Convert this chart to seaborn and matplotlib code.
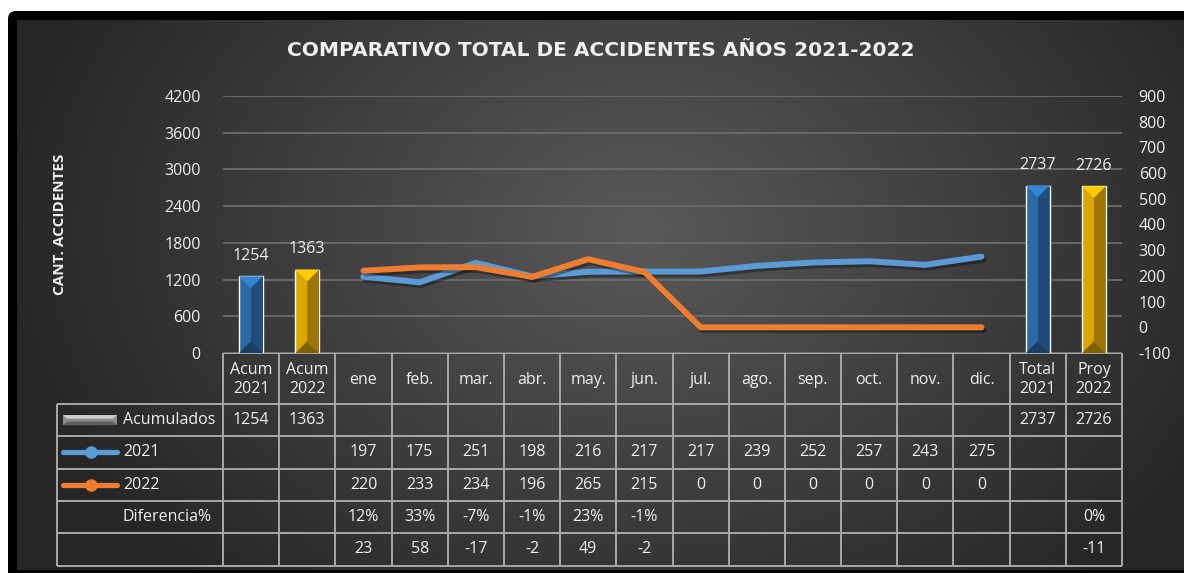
import numpy as np
import pandas as pd
import matplotlib
matplotlib.use("Agg")
import matplotlib.pyplot as plt
import seaborn as sns
from matplotlib.patches import Polygon, Rectangle, FancyBboxPatch
import matplotlib.patheffects as pe
from matplotlib.lines import Line2D

# ---------------- data ----------------
categories = ["Acum\n2021", "Acum\n2022", "ene", "feb.", "mar.", "abr.", "may.", "jun.",
              "jul.", "ago.", "sep.", "oct.", "nov.", "dic.", "Total\n2021", "Proy\n2022"]
months = categories[2:14]
bar_categories = ["Acum\n2021", "Acum\n2022", "Total\n2021", "Proy\n2022"]
bar_values = [1254, 1363, 2737, 2726]
bar_kind = ["blue", "gold", "blue", "gold"]
values_2021 = [197, 175, 251, 198, 216, 217, 217, 239, 252, 257, 243, 275]
values_2022 = [220, 233, 234, 196, 265, 215, 0, 0, 0, 0, 0, 0]
diff_pct = ["12%", "33%", "-7%", "-1%", "23%", "-1%"]
diff_abs = ["23", "58", "-17", "-2", "49", "-2"]
proy_diff_pct = "0%"
proy_diff_abs = "-11"
left_ticks = [0, 600, 1200, 1800, 2400, 3000, 3600, 4200]
right_ticks = [-100, 0, 100, 200, 300, 400, 500, 600, 700, 800, 900]
row_labels = ["Acumulados", "2021", "2022", "Diferencia%", ""]
title = "COMPARATIVO TOTAL DE ACCIDENTES AÑOS 2021-2022"
ylabel = "CANT. ACCIDENTES"

# ---------------- style ----------------
sns.set_style("dark")
plt.rcParams["font.family"] = ["Open Sans", "DejaVu Sans"]
plt.rcParams["axes.unicode_minus"] = False
TXT = "#f0f0f0"
GRID = "#6c6c6c"
TABLE = "#a8a8a8"
C2021 = "#5B9BD5"
C2022 = "#ED7D31"
facets = {
    "blue": {"base": "#2C69A5", "top": "#3585D3", "right": "#1F4C7B", "bottom": "#1B3D63"},
    "gold": {"base": "#DCA600", "top": "#FFCC00", "right": "#9C7600", "bottom": "#7E6200"},
}

W, H = 1184, 573
fig = plt.figure(figsize=(W / 100, H / 100), dpi=100)
fig.patch.set_facecolor("white")

# background (pixel coordinates, y downwards)
bg = fig.add_axes([0, 0, 1, 1], zorder=-10)
bg.set_xlim(0, W)
bg.set_ylim(H, 0)
bg.axis("off")
bg.add_patch(FancyBboxPatch((8, 11), W + 20, H + 20, boxstyle="round,pad=0,rounding_size=8",
                            facecolor="black", edgecolor="none", zorder=0))
gx0, gx1, gy0, gy1 = 17, W, 20, 570
yy, xx = np.mgrid[gy0:gy1, gx0:gx1]
r = np.sqrt(((xx - 640) / 640.0) ** 2 + ((yy - 230) / 480.0) ** 2)
v = 0.35 - 0.20 * np.clip(r, 0, 1)
img = np.dstack([v, v, v])
bg.imshow(img, extent=(gx0, gx1, gy1, gy0), aspect="auto", zorder=1, interpolation="bilinear")

# layout constants
PL, PR, PT, PB = 223, 1122, 96, 353
NC = len(categories)
CW = (PR - PL) / NC
LABEL_L = 57
HEADER_B = 404
ROW_H = (565.5 - HEADER_B) / 5

ax = fig.add_axes([PL / W, (H - PB) / H, (PR - PL) / W, (PB - PT) / H])
ax.set_facecolor("none")

# bars
df_bars = pd.DataFrame({"cat": bar_categories, "val": bar_values})
pal = {c: facets[k]["base"] for c, k in zip(bar_categories, bar_kind)}
sns.barplot(data=df_bars, x="cat", y="val", hue="cat", order=categories, palette=pal,
            width=0.42, saturation=1, ax=ax, legend=False, zorder=3)
ax.set_xlim(-0.5, NC - 0.5)
ax.set_ylim(left_ticks[0], left_ticks[-1])
ax.set_yticks(left_ticks)
ax.set_xticks([])
ax.set_xlabel("")
ax.set_ylabel(ylabel, fontsize=11, fontweight="bold", color=TXT)
ax.yaxis.set_label_coords(-0.1735, 0.5)
ax.tick_params(axis="y", length=0, pad=16, labelsize=11.5, labelcolor=TXT)
ax.yaxis.grid(True, color=GRID, lw=1.3)
ax.xaxis.grid(False)
ax.set_axisbelow(True)
for s in ax.spines.values():
    s.set_visible(False)

# bevel facets
ypp = (left_ticks[-1] - left_ticks[0]) / (PB - PT)
for patch, kind, val in zip([p for p in ax.patches if p.get_height() > 0], bar_kind, bar_values):
    x0 = patch.get_x()
    w = patch.get_width()
    h = patch.get_height()
    x1 = x0 + w
    xc = x0 + w / 2
    d = (w / 2) * CW * ypp
    f = facets[kind]
    ax.add_patch(Polygon([(x0, h), (x1, h), (xc, h - d)], closed=True, facecolor=f["top"], edgecolor="none", zorder=4))
    ax.add_patch(Polygon([(x1, h), (xc, h - d), (xc, d), (x1, 0)], closed=True, facecolor=f["right"], edgecolor="none", zorder=4))
    ax.add_patch(Polygon([(x0, 0), (x1, 0), (xc, d)], closed=True, facecolor=f["bottom"], edgecolor="none", zorder=4))
    ax.annotate(f"{val}", (xc, h), xytext=(0, 9), textcoords="offset points", ha="center", va="bottom",
                fontsize=11.5, color=TXT)

# lines
ax2 = ax.twinx()
ax2.set_facecolor("none")
pos = list(range(2, 14))
df_lines = pd.DataFrame({"pos": pos * 2, "val": values_2021 + values_2022,
                         "serie": ["2021"] * 12 + ["2022"] * 12})
sns.lineplot(data=df_lines, x="pos", y="val", hue="serie", palette={"2021": C2021, "2022": C2022},
             lw=4.3, ax=ax2, legend=False)
for ln in ax2.get_lines():
    ln.set_solid_capstyle("round")
    ln.set_solid_joinstyle("round")
    ln.set_path_effects([pe.SimpleLineShadow(offset=(1.5, -2), shadow_color="black", alpha=0.35), pe.Normal()])
ax2.set_ylim(right_ticks[0], right_ticks[-1])
ax2.set_yticks(right_ticks)
ax2.set_xlim(-0.5, NC - 0.5)
ax2.set_xlabel("")
ax2.set_ylabel("")
ax2.tick_params(axis="y", length=0, pad=12, labelsize=11.5, labelcolor=TXT)
ax2.grid(False)
for s in ax2.spines.values():
    s.set_visible(False)

# title
fig.text(601 / W, 1 - 51 / H, title, ha="center", va="center", fontsize=14.5, fontweight="bold",
         color=TXT, family=["DejaVu Sans"])

# ---------------- data table (drawn in pixel coords) ----------------
def colx(i):
    return PL + i * CW

lk = dict(color=TABLE, lw=1.4, zorder=3, solid_capstyle="butt")
bg.plot([PL, PR], [PB, PB], **lk)
for i in range(NC + 1):
    bg.plot([colx(i), colx(i)], [PB, 565.5], **lk)
bg.plot([LABEL_L, LABEL_L], [HEADER_B, 565.5], **lk)
for k in range(6):
    yk = HEADER_B + k * ROW_H
    bg.plot([LABEL_L, PR], [yk, yk], **lk)

tk = dict(ha="center", va="center", fontsize=11.5, color=TXT, zorder=4)
for i, c in enumerate(categories):
    bg.text(colx(i) + CW / 2, (PB + HEADER_B) / 2 + 1, c, linespacing=1.3, **tk)

rows = []
rows.append([str(bar_values[0]), str(bar_values[1])] + [""] * 12 + [str(bar_values[2]), str(bar_values[3])])
rows.append(["", ""] + [str(v) for v in values_2021] + ["", ""])
rows.append(["", ""] + [str(v) for v in values_2022] + ["", ""])
rows.append(["", ""] + diff_pct + [""] * 6 + ["", proy_diff_pct])
rows.append(["", ""] + diff_abs + [""] * 6 + ["", proy_diff_abs])
for r_i, row in enumerate(rows):
    yc = HEADER_B + (r_i + 0.5) * ROW_H
    for i, t in enumerate(row):
        if t:
            bg.text(colx(i) + CW / 2, yc, t, **tk)
    bg.text(123, yc, row_labels[r_i], ha="left", va="center", fontsize=11.5, color=TXT, zorder=4)

# legend keys
ky = [HEADER_B + (k + 0.5) * ROW_H for k in range(3)]
kx0, kx1 = 63, 117
bg.add_patch(Polygon([(kx0, ky[0] - 5), (kx1, ky[0] - 5), (kx1 - 4, ky[0] - 1.5), (kx0 + 4, ky[0] - 1.5)],
                     closed=True, facecolor="#cfcfcf", edgecolor="none", zorder=4))
bg.add_patch(Rectangle((kx0, ky[0] - 5), kx1 - kx0, 10, facecolor="#8c8c8c", edgecolor="none", zorder=3.5))
bg.add_patch(Polygon([(kx0, ky[0] + 5), (kx1, ky[0] + 5), (kx1 - 4, ky[0] + 1.5), (kx0 + 4, ky[0] + 1.5)],
                     closed=True, facecolor="#5e5e5e", edgecolor="none", zorder=4))
for yk_, col in zip(ky[1:], [C2021, C2022]):
    bg.add_line(Line2D([kx0, kx1], [yk_, yk_], color=col, lw=3.8, solid_capstyle="round", zorder=4))
    bg.add_line(Line2D([(kx0 + kx1) / 2 + 1], [yk_], color=col, marker="o", markersize=8, zorder=5))

fig.savefig("out.png", dpi=100, facecolor=fig.get_facecolor())
